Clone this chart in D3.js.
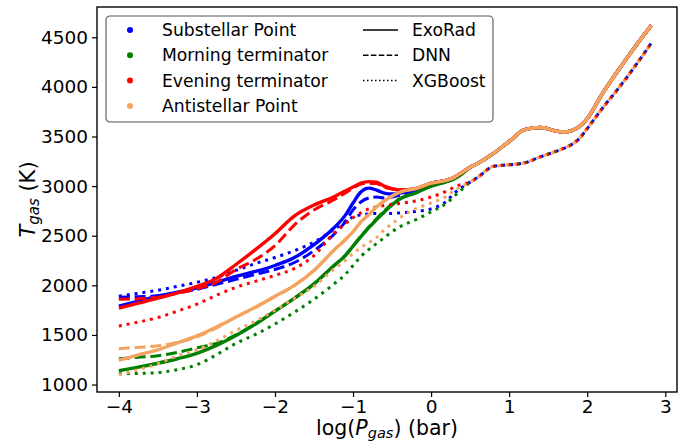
<!DOCTYPE html>
<html>
<head>
<meta charset="utf-8">
<script src="https://cdn.jsdelivr.net/npm/d3@7"></script>
<style>
  body { margin: 0; background: #fff; }
  svg { display: block; font-family: "DejaVu Sans", sans-serif; }
</style>
</head>
<body>
<svg id="chart" width="692" height="443"></svg>
<script>
// ===== pressure grid and temperature profiles =====

var logP = [-4, -3.75, -3.5, -3.25, -3, -2.75, -2.5, -2.25, -2, -1.75, -1.5, -1.25, -1.1, -1,
  -0.9, -0.8, -0.7, -0.6, -0.5, -0.4, -0.2, 0, 0.2, 0.3, 0.4, 0.5, 0.6, 0.8, 1.0, 1.2, 1.4,
  1.6, 1.7, 1.8, 1.9, 2.0, 2.2, 2.4, 2.6, 2.82];

// deep atmosphere (logP >= 0) is nearly identical for every location
var deepExoRad = [3030, 3060, 3090, 3140, 3190, 3230, 3330, 3450, 3570, 3590, 3555, 3545, 3560,
  3600, 3680, 3940, 4170, 4390, 4620];
// XGBoost from logP = 0.5 on
var deepXGB = [3040, 3090, 3200, 3215, 3235, 3295, 3350, 3380, 3420, 3480, 3580, 3790, 3985,
  4195, 4440];

// Substellar point
var subExoRad = [1790, 1840, 1890, 1930, 1975, 2030, 2090, 2140, 2200, 2280, 2410, 2575, 2705,
  2830, 2940, 2980, 2960, 2930, 2920, 2930, 2960].concat(deepExoRad);
var subDNN = [1880, 1885, 1895, 1925, 1960, 2010, 2060, 2110, 2160, 2230, 2350, 2510, 2640,
  2760, 2840, 2880, 2890, 2880, 2890, 2910, 2950].concat(deepExoRad);
var subXGB = [1890, 1920, 1950, 1990, 2030, 2080, 2150, 2220, 2280, 2350, 2435, 2560, 2640,
  2690, 2710, 2720, 2725, 2725, 2725, 2730, 2745, 2770, 2850, 2930, 2990].concat(deepXGB);

// Morning terminator
var mornExoRad = [1140, 1175, 1215, 1260, 1315, 1395, 1495, 1610, 1740, 1870, 2015, 2195, 2300,
  2395, 2490, 2580, 2660, 2740, 2810, 2870, 2930, 3000, 3045, 3075, 3125].concat(deepExoRad.slice(4));
var mornDNN = [1260, 1275, 1290, 1325, 1370, 1415, 1500, 1610, 1740, 1870, 2015, 2195, 2300,
  2395, 2495, 2585, 2670, 2750, 2820, 2875, 2930, 3000, 3045, 3075, 3125].concat(deepExoRad.slice(4));
var mornXGB = [1110, 1112, 1121, 1150, 1200, 1300, 1415, 1505, 1610, 1730, 1860, 2010, 2110,
  2200, 2290, 2360, 2420, 2480, 2540, 2590, 2660, 2740, 2830, 2900, 2970].concat(deepXGB);

// Evening terminator
var evenExoRad = [1770, 1820, 1870, 1925, 1990, 2070, 2210, 2360, 2520, 2700, 2810, 2890, 2950,
  2990, 3030, 3045, 3040, 3000, 2975, 2960, 2975].concat(deepExoRad);
var evenDNN = [1860, 1865, 1880, 1920, 1965, 2030, 2160, 2260, 2400, 2610, 2760, 2860, 2930,
  2980, 3020, 3030, 3025, 2990, 2970, 2960, 2975].concat(deepExoRad);
var evenXGB = [1590, 1630, 1675, 1740, 1810, 1900, 1980, 2040, 2100, 2170, 2300, 2520, 2620,
  2680, 2730, 2770, 2790, 2805, 2815, 2825, 2850, 2890, 2950, 2990, 3020].concat(deepXGB);

// Antistellar point
var antiExoRad = [1245, 1300, 1350, 1420, 1490, 1580, 1680, 1780, 1890, 2000, 2150, 2350, 2460,
  2540, 2640, 2710, 2790, 2850, 2900, 2940, 2975].concat(deepExoRad);
var antiDNN = [1360, 1375, 1390, 1425, 1480, 1570, 1680, 1780, 1885, 2000, 2150, 2350, 2460,
  2540, 2640, 2710, 2790, 2850, 2900, 2940, 2975].concat(deepExoRad);
var antiXGB = [1100, 1150, 1210, 1290, 1350, 1440, 1545, 1640, 1750, 1870, 1990, 2160, 2250,
  2320, 2380, 2430, 2480, 2560, 2620, 2680, 2770, 2830, 2900, 2960, 3000].concat(deepXGB);

var locations = ["Substellar Point", "Morning terminator", "Evening terminator", "Antistellar Point"];
var locColours = ["#0000ff", "#008000", "#ff0000", "#f4a460"];
var models = ["ExoRad", "DNN", "XGBoost"];
var xTicks = [-4, -3, -2, -1, 0, 1, 2, 3];
var yTicks = [1000, 1500, 2000, 2500, 3000, 3500, 4000, 4500];

var seriesTable = [
  [subExoRad, subDNN, subXGB],
  [mornExoRad, mornDNN, mornXGB],
  [evenExoRad, evenDNN, evenXGB],
  [antiExoRad, antiDNN, antiXGB]
];

// ===== layout =====
var margin = { left: 97, right: 15, top: 7, bottom: 51 };
var width = 692, height = 443;
var plotW = width - margin.left - margin.right;
var plotH = height - margin.top - margin.bottom;
var dashFor = { ExoRad: null, DNN: "11,4.8", XGBoost: "3,4.95" };
var widthFor = { ExoRad: 3.4, DNN: 3, XGBoost: 3 };

var svg = d3.select("#chart");
var g = svg.append("g").attr("transform", "translate(" + margin.left + "," + margin.top + ")");

var x = d3.scaleLinear().domain([-4.28, 3.15]).range([0, plotW]);
var y = d3.scaleLinear().domain([925, 4805]).range([plotH, 0]);

svg.append("defs").append("clipPath").attr("id", "plot-clip")
  .append("rect").attr("width", plotW).attr("height", plotH);

var line = d3.line()
  .x(function(d) { return x(d[0]); })
  .y(function(d) { return y(d[1]); })
  .curve(d3.curveMonotoneX);

var linesG = g.append("g").attr("clip-path", "url(#plot-clip)");
locations.forEach(function(loc, i) {
  models.forEach(function(m, j) {
    var pts = logP.map(function(p, k) { return [p, seriesTable[i][j][k]]; });
    linesG.append("path")
      .attr("d", line(pts))
      .attr("fill", "none")
      .attr("stroke", locColours[i])
      .attr("stroke-width", widthFor[m])
      .attr("stroke-dasharray", dashFor[m]);
  });
});

// Axes
var xAxis = g.append("g").attr("transform", "translate(0," + plotH + ")")
  .call(d3.axisBottom(x).tickValues(xTicks).tickSize(5).tickPadding(3));
var yAxis = g.append("g")
  .call(d3.axisLeft(y).tickValues(yTicks).tickFormat(d3.format("d")).tickSize(5).tickPadding(4));
[xAxis, yAxis].forEach(function(a) {
  a.select(".domain").remove();
  a.selectAll("line").attr("stroke", "#000").attr("stroke-width", 1.2);
  a.selectAll("text").attr("font-size", 18.5).attr("fill", "#000")
    .attr("font-family", "DejaVu Sans, sans-serif");
});

// frame
g.append("rect").attr("width", plotW).attr("height", plotH)
  .attr("fill", "none").attr("stroke", "#000").attr("stroke-width", 1.4);

// Axis labels
var xl = svg.append("text")
  .attr("x", margin.left + plotW / 2).attr("y", 435)
  .attr("text-anchor", "middle").attr("font-size", 20.5);
xl.append("tspan").text("log(");
xl.append("tspan").attr("font-style", "italic").text("P");
xl.append("tspan").attr("font-style", "italic").attr("font-size", 14.5).attr("dy", 3).text("gas");
xl.append("tspan").attr("dy", -3).text(") (bar)");

var yl = svg.append("text")
  .attr("transform", "translate(35," + (margin.top + plotH / 2) + ") rotate(-90)")
  .attr("text-anchor", "middle").attr("font-size", 21);
yl.append("tspan").attr("font-style", "italic").text("T");
yl.append("tspan").attr("font-style", "italic").attr("font-size", 15).attr("dy", 4).text("gas");
yl.append("tspan").attr("dy", -4).text(" (K)");

// Legend
var leg = svg.append("g").attr("transform", "translate(106,16)");
leg.append("rect").attr("width", 387).attr("height", 106).attr("rx", 4)
  .attr("fill", "#fff").attr("fill-opacity", 0.8)
  .attr("stroke", "#555").attr("stroke-width", 1.1);
locations.forEach(function(loc, i) {
  var ry = 14 + i * 25.3;
  leg.append("circle").attr("cx", 24).attr("cy", ry).attr("r", 3).attr("fill", locColours[i]);
  leg.append("text").attr("x", 56).attr("y", ry + 6).attr("font-size", 17.2).text(loc);
});
models.forEach(function(m, j) {
  var ry = 14 + j * 25.3;
  leg.append("line").attr("x1", 257).attr("x2", 292).attr("y1", ry).attr("y2", ry)
    .attr("stroke", "#000").attr("stroke-width", 1.5)
    .attr("stroke-dasharray", m === "DNN" ? "5.5,2.4" : (m === "XGBoost" ? "1.5,2.5" : null));
  leg.append("text").attr("x", 306).attr("y", ry + 6).attr("font-size", 17.2).text(m);
});
</script>
</body>
</html>
